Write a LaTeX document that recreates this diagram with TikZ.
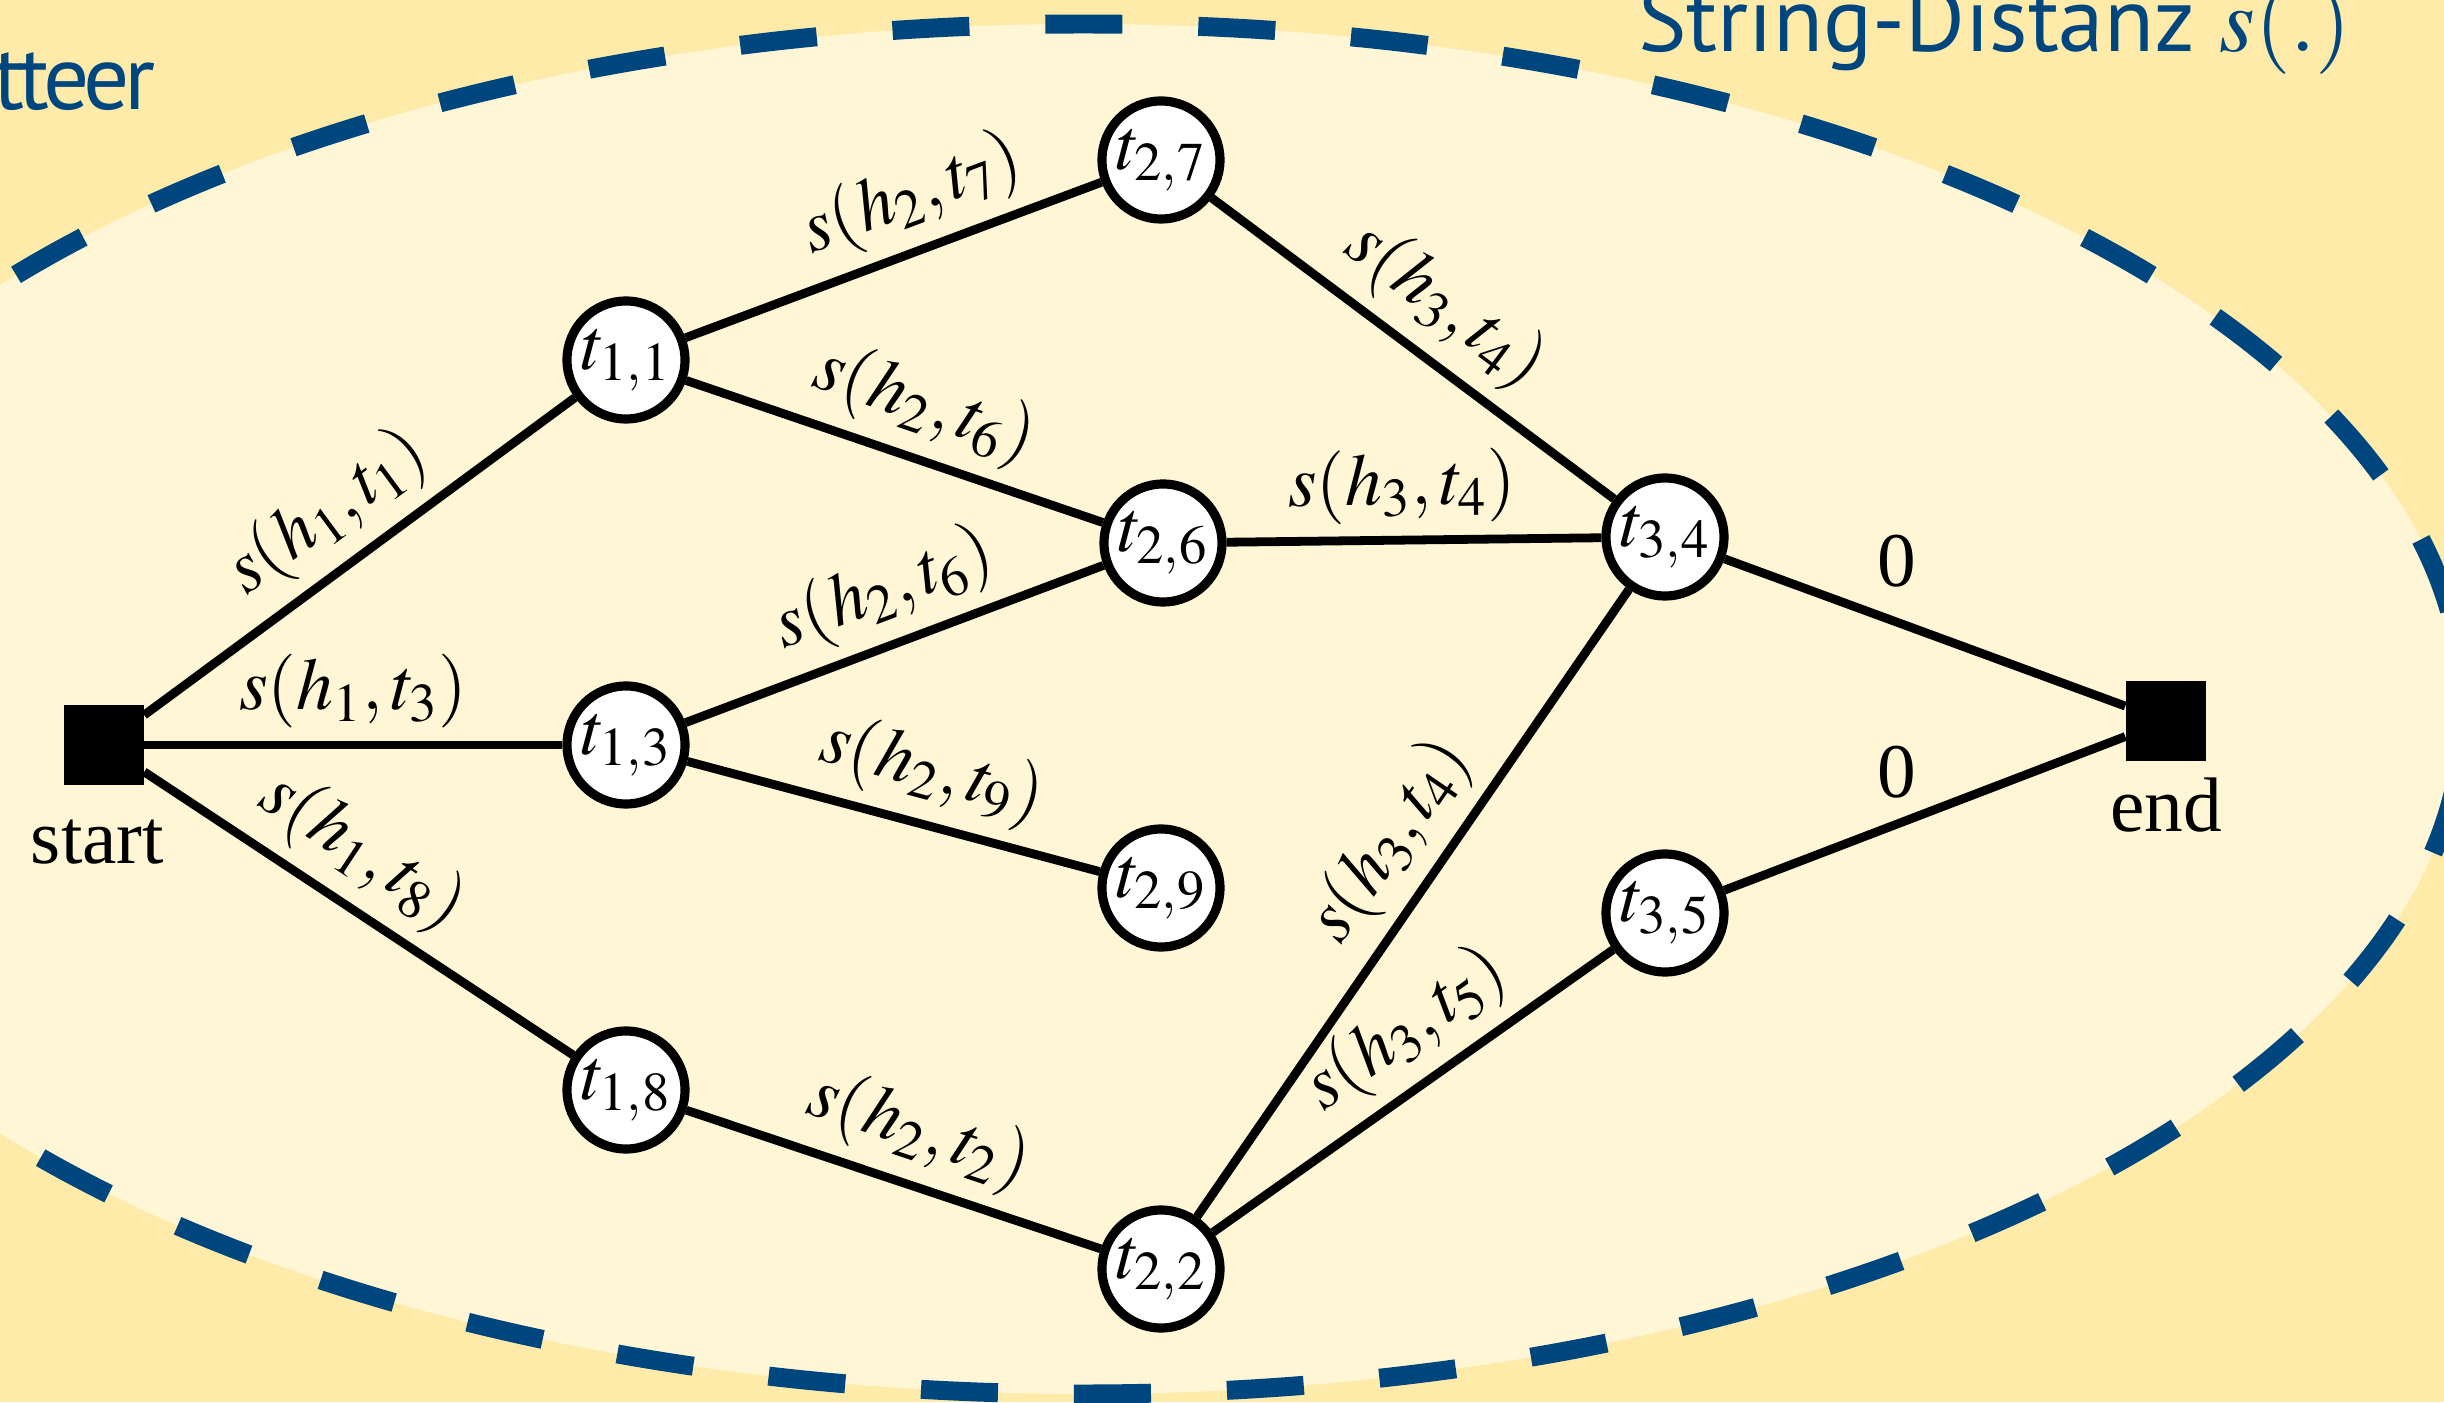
\documentclass[tikz,border=0pt]{standalone}
\usepackage{mathptmx}
\usepackage{fontspec}
\setmainfont{Liberation Serif}
\newfontfamily\headfont{PT Sans}
\usetikzlibrary{positioning}
\definecolor{slidebg}{HTML}{FEEBA9}
\definecolor{gridbg}{HTML}{FFF6D5}
\definecolor{unidark}{HTML}{00467E}

\begin{document}
\begin{tikzpicture}[
        cand/.style={circle, draw, fill=white, line width=2.6pt, minimum size=1.18cm, inner sep=0pt, font=\fontsize{21}{25}\selectfont},
        term/.style={rectangle, fill=black, minimum size=0.8cm, inner sep=0pt},
        cost/.style={sloped, above, inner sep=3.5pt, font=\fontsize{21}{25}\selectfont},
        zero/.style={inner sep=0pt, font=\fontsize{22}{26}\selectfont},
        tag/.style={inner sep=0pt, font=\fontsize{22}{26}\selectfont},
        head/.style={anchor=base east, inner sep=0pt, text=unidark, font=\headfont\fontsize{26}{30}\selectfont},
        wire/.style={line width=2.5pt},
        ]
        \useasboundingbox (0,0) rectangle (24.44,14.02);
        \fill[slidebg] (0,0) rectangle (24.44,14.02);
        % dashed region round the lattice
        \filldraw[fill=gridbg, draw=unidark, line width=5.4pt, dash pattern=on 0.77cm off 0.76cm, dash phase=0.535cm]
            (10.835,6.93) ellipse [x radius=13.8, y radius=6.85];
        \node[head] (lattice) at (1.56,12.92) {\addfontfeature{LetterSpace=-6}tteer};
        \node[head] (metric) at (23.52,13.5) {String-Distanz $s(.)$};

        \node[term] (start) at (1.035,6.57) {};
        \node[term] (end)   at (21.66,6.81) {};
        \node[tag, below=0.78cm of start, anchor=base, xshift=-0.06cm] (startname) {start};
        \node[tag, below=0.70cm of end, anchor=base]                  (endname)   {end};

        \node[cand] (t11) at (6.26,10.42) {$t_{1,1}$};
        \node[cand] (t13) at (6.26,6.57)  {$t_{1,3}$};
        \node[cand] (t18) at (6.26,3.12)  {$t_{1,8}$};
        \node[cand] (t27) at (11.61,12.42) {$t_{2,7}$};
        \node[cand] (t26) at (11.63,8.59)  {$t_{2,6}$};
        \node[cand] (t29) at (11.61,5.14)  {$t_{2,9}$};
        \node[cand] (t22) at (11.61,1.33)  {$t_{2,2}$};
        \node[cand] (t34) at (16.65,8.65)  {$t_{3,4}$};
        \node[cand] (t35) at (16.65,4.89)  {$t_{3,5}$};

        \path[wire] (start) edge node[cost] {$s(h_1,t_1)$} (t11)
        (start) edge node[cost] {$s(h_1,t_3)$} (t13)
        (start) edge node[cost, pos=0.44] {$s(h_1,t_8)$} (t18)
        (t11) edge node[cost, pos=0.59] {$s(h_2,t_7)$} (t27)
        (t11) edge node[cost, pos=0.53] {$s(h_2,t_6)$} (t26)
        (t13) edge node[cost, pos=0.52] {$s(h_2,t_6)$} (t26)
        (t13) edge node[cost, pos=0.56] {$s(h_2,t_9)$} (t29)
        (t18) edge node[cost, pos=0.52] {$s(h_2,t_2)$} (t22)
        (t27) edge node[cost] {$s(h_3,t_4)$} (t34)
        (t26) edge node[cost, pos=0.47] {$s(h_3,t_4)$} (t34)
        (t22) edge node[cost, pos=0.55] {$s(h_3,t_4)$} (t34)
        (t22) edge node[cost, pos=0.56] {$s(h_3,t_5)$} (t35)
        (t34) edge node[zero, above=0.31cm, pos=0.43] {0} (end)
        (t35) edge node[zero, above=0.22cm, pos=0.43] {0} (end);
\end{tikzpicture}
\end{document}
